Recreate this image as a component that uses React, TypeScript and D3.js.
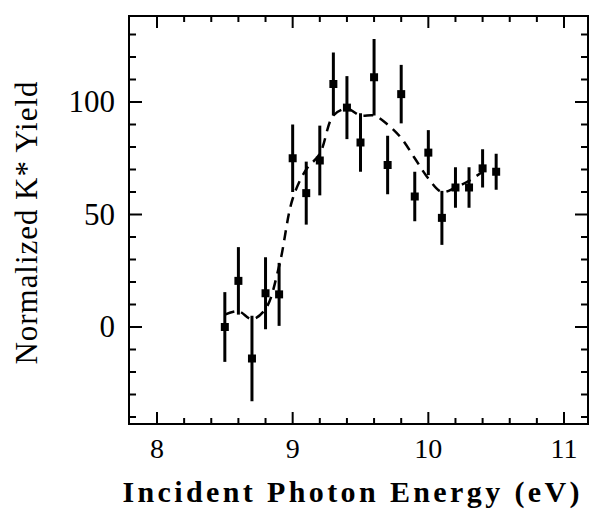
import React from "react";
import * as d3 from "d3";

const energies = [8.5, 8.6, 8.7, 8.8, 8.9, 9.0, 9.1, 9.2, 9.3, 9.4, 9.5, 9.6, 9.7, 9.8, 9.9, 10.0, 10.1, 10.2, 10.3, 10.4, 10.5];
const yields = [0, 20.5, -14, 15, 14.5, 75, 59.5, 74, 108, 97.5, 82, 111, 72, 103.5, 58, 77.5, 48.5, 62, 62, 70.5, 69];
const errors = [15.5, 15, 19, 16, 14, 15, 14, 15.5, 14, 14, 13, 17, 13, 13, 11, 10, 12, 9, 9, 8.5, 8];

const fitX = [8.5, 8.6, 8.7, 8.8, 8.9, 9.0, 9.1, 9.2, 9.3, 9.4, 9.5, 9.6, 9.7, 9.8, 9.9, 10.0, 10.1, 10.2, 10.3, 10.4];
const fitY = [5.5, 7, 3.5, 8, 27, 57, 70, 77, 94, 97, 94, 94, 90, 84, 75, 66, 60, 62, 65, 69];

const xMajor = [8, 9, 10, 11];
const yMajor = [0, 50, 100];
const xTitle = "Incident Photon Energy (eV)";
const yTitle = "Normalized K* Yield";

export default function App() {
  const W = 591, H = 510;
  const left = 129, right = 588, top = 16, bottom = 424;
  const x = d3.scaleLinear().domain([8, 11]).range([157, 564]);
  const y = d3.scaleLinear().domain([0, 100]).range([327, 102]);

  const xMinor = d3.range(8, 11.01, 0.2).map((v) => +v.toFixed(1));
  const yMinor = d3.range(-40, 131, 10);

  const line = d3
    .line<number>()
    .x((_, i) => x(fitX[i]))
    .y((d) => y(d))
    .curve(d3.curveCatmullRom.alpha(0.5));

  const serif = "'Liberation Serif', 'Times New Roman', serif";
  const ms = 8;

  return (
    <svg width={W} height={H} style={{ position: "absolute", left: 0, top: 0, background: "#fff" }}>
      <rect x={0} y={0} width={W} height={H} fill="#fff" />
      <rect x={left} y={top} width={right - left} height={bottom - top} fill="none" stroke="#000" strokeWidth={2} />
      {xMinor.map((v) => {
        const isMajor = xMajor.includes(v);
        const len = isMajor ? 12 : 6;
        return (
          <g key={"xt" + v}>
            <line x1={x(v)} x2={x(v)} y1={bottom} y2={bottom - len} stroke="#000" strokeWidth={2} />
            <line x1={x(v)} x2={x(v)} y1={top} y2={top + len} stroke="#000" strokeWidth={2} />
          </g>
        );
      })}
      {yMinor.map((v) => {
        const isMajor = yMajor.includes(v);
        const len = isMajor ? 13 : 7;
        return (
          <g key={"yt" + v}>
            <line x1={left} x2={left + len} y1={y(v)} y2={y(v)} stroke="#000" strokeWidth={2} />
            <line x1={right} x2={right - len} y1={y(v)} y2={y(v)} stroke="#000" strokeWidth={2} />
          </g>
        );
      })}
      {xMajor.map((v) => (
        <text key={"xl" + v} x={x(v)} y={458} textAnchor="middle" fontFamily={serif} fontSize={28} fill="#000">
          {v}
        </text>
      ))}
      {yMajor.map((v) => (
        <text key={"yl" + v} x={115} y={y(v) + 10} textAnchor="end" fontFamily={serif} fontSize={31} fill="#000">
          {v}
        </text>
      ))}
      <text
        x={351}
        y={502}
        textAnchor="middle"
        fontFamily={serif}
        fontWeight="bold"
        fontSize={30}
        textLength={457}
        lengthAdjust="spacing"
        fill="#000"
      >
        {xTitle}
      </text>
      <text
        transform={`translate(37,${223}) rotate(-90)`}
        textAnchor="middle"
        fontFamily={serif}
        fontSize={31}
        textLength={283}
        lengthAdjust="spacing"
        fill="#000"
      >
        {yTitle}
      </text>
      <path d={line(fitY) || ""} fill="none" stroke="#000" strokeWidth={2.5} strokeDasharray="10,7" />
      {energies.map((e, i) => (
        <g key={"p" + i}>
          <line x1={x(e)} x2={x(e)} y1={y(yields[i] - errors[i])} y2={y(yields[i] + errors[i])} stroke="#000" strokeWidth={3} />
          <rect x={x(e) - ms / 2} y={y(yields[i]) - ms / 2} width={ms} height={ms} fill="#000" />
        </g>
      ))}
    </svg>
  );
}
